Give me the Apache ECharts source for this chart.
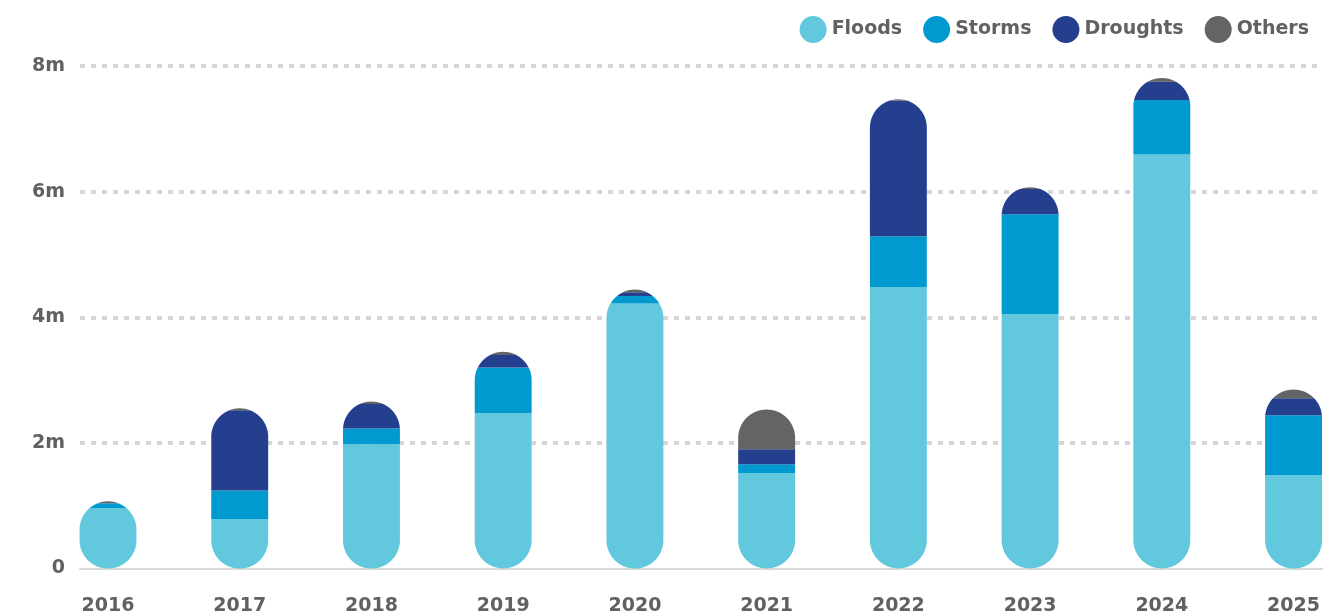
<!DOCTYPE html>
<html>
<head>
<meta charset="utf-8">
<title>People displaced by disaster type, 2016–2025</title>
<script src="https://cdn.jsdelivr.net/npm/echarts@6/dist/echarts.min.js"></script>
<style>
  html, body { margin: 0; padding: 0; background: #ffffff; }
  #chart { width: 1323px; height: 616px; }
</style>
</head>
<body>
<div id="chart"></div>
<script>
// Years on the horizontal axis
const years = ['2016', '2017', '2018', '2019', '2020', '2021', '2022', '2023', '2024', '2025'];

// Values per disaster type, in millions
const floods   = [0.96, 0.79, 1.98, 2.47, 4.22, 1.52, 4.48, 4.05, 6.59, 1.49];
const storms   = [0.08, 0.45, 0.25, 0.73, 0.12, 0.14, 0.81, 1.59, 0.87, 0.95];
const droughts = [0.00, 1.28, 0.39, 0.20, 0.06, 0.24, 2.16, 0.40, 0.29, 0.27];
const others   = [0.03, 0.03, 0.04, 0.05, 0.04, 0.63, 0.02, 0.03, 0.06, 0.14];

// Value axis ticks (millions)
const yTicks = [0, 2, 4, 6, 8];

const seriesNames  = ['Floods', 'Storms', 'Droughts', 'Others'];
const seriesValues = [floods, storms, droughts, others];
const seriesColors = ['#61c8de', '#0099d0', '#233f8e', '#636466'];

const textGrey = '#606163';
const fontFamily = '"DejaVu Sans", "Noto Sans", sans-serif';

// Stack totals per year, used for the rounded outline of each column
const totals = years.map((_, i) => seriesValues.reduce((s, arr) => s + arr[i], 0));

// Half width of the capsule outline at pixel row y
function capsuleHalfWidth(y, yTop, yBot, r) {
  const rr = Math.min(r, (yBot - yTop) / 2);
  const cTop = yTop + rr;
  const cBot = yBot - rr;
  let dy = 0;
  if (y < cTop) dy = cTop - y;
  else if (y > cBot) dy = y - cBot;
  const t = Math.max(0, rr * rr - dy * dy);
  return Math.sqrt(t) * (r / rr);
}

// One segment of a stacked column, clipped to the column's capsule outline
function renderSegment(params, api) {
  const idx = api.value(0);
  const base = api.value(1);
  const val = api.value(2);
  const total = api.value(3);
  if (!(val > 0)) return null;

  const bandW = api.size([1, 0])[0];
  const r = bandW * 0.432 / 2;
  const cx = api.coord([idx, 0])[0];
  const yZero = api.coord([idx, 0])[1];
  const yTotal = api.coord([idx, total])[1];
  const segTop = api.coord([idx, base + val])[1];
  const segBot = api.coord([idx, base])[1];

  const ys = [];
  const step = 0.5;
  for (let y = segTop; y < segBot; y += step) ys.push(y);
  ys.push(segBot);

  const left = ys.map(y => [cx - capsuleHalfWidth(y, yTotal, yZero, r), y]);
  const right = ys.slice().reverse().map(y => [cx + capsuleHalfWidth(y, yTotal, yZero, r), y]);

  return {
    type: 'polygon',
    shape: { points: left.concat(right) },
    style: { fill: api.visual('color') }
  };
}

const series = seriesNames.map((name, k) => ({
  name: name,
  type: 'custom',
  xAxisIndex: 1,
  yAxisIndex: 1,
  clip: false,
  itemStyle: { color: seriesColors[k] },
  encode: { x: 0, y: 2 },
  renderItem: renderSegment,
  data: years.map((_, i) => {
    let base = 0;
    for (let j = 0; j < k; j++) base += seriesValues[j][i];
    return [i, base, seriesValues[k][i], totals[i]];
  })
}));

const chart = echarts.init(document.getElementById('chart'), null, { renderer: 'canvas' });

chart.setOption({
  animation: false,
  backgroundColor: '#ffffff',
  textStyle: { fontFamily: fontFamily },
  legend: {
    data: seriesNames,
    right: 9,
    top: 11,
    icon: 'circle',
    itemWidth: 27,
    itemHeight: 27,
    itemGap: 21,
    textStyle: { fontSize: 19, fontWeight: 'bold', color: textGrey, fontFamily: fontFamily }
  },
  grid: [
    // gridlines, value labels and baseline
    { left: 80, right: 0, top: 66, height: 502.5, containLabel: false },
    // columns and year labels: first and last year sit 28px in from the plot edges
    { left: 108, right: 27, top: 66, height: 502.5, containLabel: false }
  ],
  xAxis: [
    {
      type: 'category',
      gridIndex: 0,
      data: years,
      axisLine: { show: true, lineStyle: { color: '#d9d9d9', width: 2 } },
      axisTick: { show: false },
      axisLabel: { show: false },
      splitLine: { show: false }
    },
    {
      type: 'category',
      gridIndex: 1,
      data: years,
      boundaryGap: false,
      axisLine: { show: false },
      axisTick: { show: false },
      axisLabel: {
        show: true,
        margin: 28,
        fontSize: 19,
        fontWeight: 'bold',
        color: textGrey,
        fontFamily: fontFamily
      },
      splitLine: { show: false }
    }
  ],
  yAxis: [
    {
      type: 'value',
      gridIndex: 0,
      min: yTicks[0],
      max: yTicks[yTicks.length - 1],
      interval: yTicks[1] - yTicks[0],
      axisLine: { show: false },
      axisTick: { show: false },
      axisLabel: {
        margin: 15,
        fontSize: 19,
        fontWeight: 'bold',
        color: textGrey,
        fontFamily: fontFamily,
        formatter: v => (v === 0 ? '0' : v + 'm')
      },
      splitLine: {
        show: true,
        showMinLine: false,
        lineStyle: { color: '#d5d5d7', width: 4, type: [5, 6], cap: 'butt' }
      }
    },
    {
      type: 'value',
      gridIndex: 1,
      min: yTicks[0],
      max: yTicks[yTicks.length - 1],
      interval: yTicks[1] - yTicks[0],
      show: false,
      splitLine: { show: false }
    }
  ],
  series: series
});
</script>
</body>
</html>
